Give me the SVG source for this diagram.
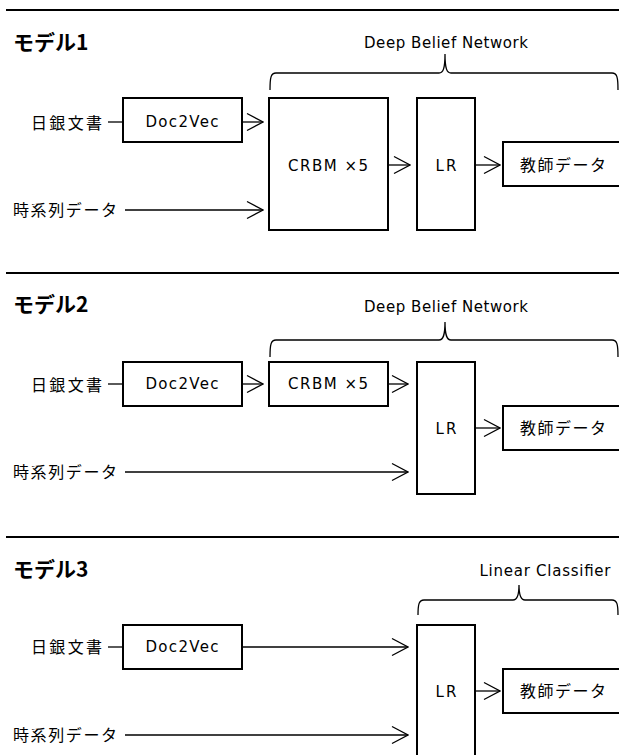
<svg xmlns="http://www.w3.org/2000/svg" width="619" height="755" viewBox="0 0 619 755">
<style>
.sep{stroke:#000;stroke-width:2.2;fill:none}
.box{fill:#fff;stroke:#000;stroke-width:2}
.ln{stroke:#000;stroke-width:1.3;fill:none}
.br{stroke:#000;stroke-width:1.3;fill:none}
.t{font-family:"DejaVu Sans","Noto Sans CJK JP",sans-serif;font-size:15px;fill:#000}
.j{font-family:"Noto Sans CJK JP",sans-serif;font-size:16px;fill:#000}
.h{font-family:"Noto Sans CJK JP",sans-serif;font-size:21px;font-weight:bold;fill:#000}
</style>
<defs>
<marker id="arr" viewBox="0 0 18 20" markerWidth="18" markerHeight="20" refX="17" refY="10" orient="auto" markerUnits="userSpaceOnUse">
<path d="M1,1.5 L17,10 L1,18.5" fill="none" stroke="#000" stroke-width="1.3"/>
</marker>
</defs>
<g id="separators">
<line class="sep" x1="6" y1="10" x2="619" y2="10"/>
<line class="sep" x1="6" y1="273" x2="619" y2="273"/>
<line class="sep" x1="6" y1="537" x2="619" y2="537"/>
</g>
<g id="titles">
<text class="h" x="13" y="50">モデル1</text>
<text class="h" x="13" y="312">モデル2</text>
<text class="h" x="13" y="577">モデル3</text>
</g>
<g id="braces">
<path class="br" d="M270,90 C270,77 271,73 276,73 H439 C443,73 445,69 445,54 C445,69 447,73 451,73 H612 C617,73 618,77 618,90"/>
<text class="t" x="446" y="48" text-anchor="middle" textLength="164">Deep Belief Network</text>
<path class="br" d="M270,357 C270,344 271,340 276,340 H439 C443,340 445,336 445,322 C445,336 447,340 451,340 H612 C617,340 618,344 618,357"/>
<text class="t" x="446" y="312" text-anchor="middle" textLength="164">Deep Belief Network</text>
<path class="br" d="M418,615 C418,604 419,600 424,600 H513 C517,600 519,596 519,585 C519,596 521,600 525,600 H612 C617,600 618,604 618,615"/>
<text class="t" x="545" y="576" text-anchor="middle" textLength="131">Linear Classifier</text>
</g>
<g id="connectors">
<line class="ln" x1="108" y1="122" x2="123" y2="122"/>
<line class="ln" x1="242" y1="122" x2="263" y2="122" marker-end="url(#arr)"/>
<line class="ln" x1="125" y1="210" x2="263" y2="210" marker-end="url(#arr)"/>
<line class="ln" x1="388" y1="165" x2="410" y2="165" marker-end="url(#arr)"/>
<line class="ln" x1="475" y1="165" x2="500" y2="165" marker-end="url(#arr)"/>
<line class="ln" x1="108" y1="384" x2="123" y2="384"/>
<line class="ln" x1="242" y1="384" x2="263" y2="384" marker-end="url(#arr)"/>
<line class="ln" x1="388" y1="384" x2="408" y2="384" marker-end="url(#arr)"/>
<line class="ln" x1="125" y1="472" x2="408" y2="472" marker-end="url(#arr)"/>
<line class="ln" x1="475" y1="428" x2="500" y2="428" marker-end="url(#arr)"/>
<line class="ln" x1="108" y1="647" x2="123" y2="647"/>
<line class="ln" x1="242" y1="647" x2="408" y2="647" marker-end="url(#arr)"/>
<line class="ln" x1="125" y1="735" x2="408" y2="735" marker-end="url(#arr)"/>
<line class="ln" x1="475" y1="691" x2="500" y2="691" marker-end="url(#arr)"/>
</g>
<g id="m1-input-doc"><text class="j" x="31" y="129" textLength="71">日銀文書</text></g>
<g id="m1-input-ts"><text class="j" x="13" y="216" textLength="104">時系列データ</text></g>
<g id="m1-doc2vec"><rect class="box" x="123" y="98" width="119" height="44"/><text class="t" x="182" y="127" text-anchor="middle" textLength="73">Doc2Vec</text></g>
<g id="m1-crbm"><rect class="box" x="269" y="98" width="119" height="132"/><text class="t" x="328" y="171" text-anchor="middle" textLength="80">CRBM ×5</text></g>
<g id="m1-lr"><rect class="box" x="417" y="98" width="58" height="132"/><text class="t" x="446" y="171" text-anchor="middle" textLength="21">LR</text></g>
<g id="m1-teacher"><rect class="box" x="503" y="142" width="120" height="44"/><text class="j" x="520" y="171" textLength="86">教師データ</text></g>
<g id="m2-input-doc"><text class="j" x="31" y="391" textLength="71">日銀文書</text></g>
<g id="m2-input-ts"><text class="j" x="13" y="478" textLength="104">時系列データ</text></g>
<g id="m2-doc2vec"><rect class="box" x="123" y="362" width="119" height="44"/><text class="t" x="182" y="389" text-anchor="middle" textLength="73">Doc2Vec</text></g>
<g id="m2-crbm"><rect class="box" x="269" y="362" width="119" height="44"/><text class="t" x="328" y="389" text-anchor="middle" textLength="80">CRBM ×5</text></g>
<g id="m2-lr"><rect class="box" x="417" y="362" width="58" height="132"/><text class="t" x="446" y="434" text-anchor="middle" textLength="21">LR</text></g>
<g id="m2-teacher"><rect class="box" x="503" y="406" width="120" height="44"/><text class="j" x="520" y="434" textLength="86">教師データ</text></g>
<g id="m3-input-doc"><text class="j" x="31" y="653" textLength="71">日銀文書</text></g>
<g id="m3-input-ts"><text class="j" x="13" y="741" textLength="104">時系列データ</text></g>
<g id="m3-doc2vec"><rect class="box" x="123" y="625" width="119" height="44"/><text class="t" x="182" y="652" text-anchor="middle" textLength="73">Doc2Vec</text></g>
<g id="m3-lr"><rect class="box" x="417" y="625" width="58" height="140"/><text class="t" x="446" y="697" text-anchor="middle" textLength="21">LR</text></g>
<g id="m3-teacher"><rect class="box" x="503" y="669" width="120" height="44"/><text class="j" x="520" y="697" textLength="86">教師データ</text></g>
</svg>
